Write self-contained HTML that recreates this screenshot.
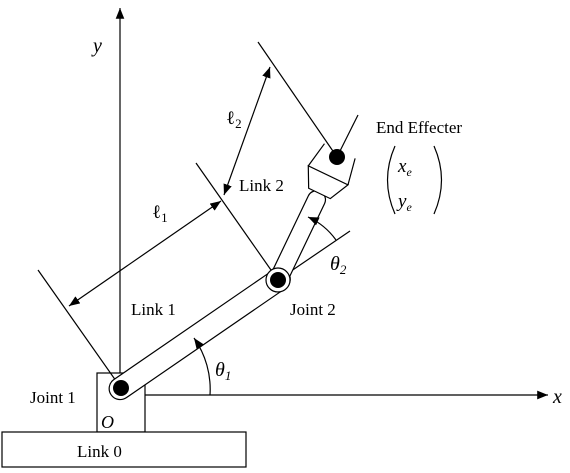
<!DOCTYPE html>
<html><head><meta charset="utf-8"><style>
html,body{margin:0;padding:0;background:#fff}
svg{display:block}
text{font-family:"Liberation Serif",serif;fill:#000}
</style></head><body>
<svg width="570" height="473" viewBox="0 0 570 473">
<defs>
<marker id="ah" viewBox="0 0 10 10" refX="10" refY="5" markerWidth="9" markerHeight="9" orient="auto-start-reverse"><path d="M0,1 L10,5 L0,9 z" fill="#000"/></marker>
</defs>
<g stroke="#000" stroke-width="1.2" fill="none">
<line x1="120" y1="396" x2="120" y2="8" marker-end="url(#ah)"/>
<line x1="145" y1="395" x2="548" y2="395" marker-end="url(#ah)"/>
<rect x="97" y="373" width="48" height="59" fill="#fff"/>
<rect x="2" y="432" width="244" height="35" fill="#fff"/>
<line x1="38" y1="270" x2="121" y2="388"/>
<line x1="196" y1="163" x2="278" y2="280"/>
<line x1="258" y1="42" x2="337" y2="157"/>
<line x1="278" y1="280" x2="350" y2="231"/>
<line x1="337" y1="157" x2="358" y2="115"/>
<line x1="69" y1="306" x2="221" y2="201" marker-start="url(#ah)" marker-end="url(#ah)"/>
<line x1="224" y1="195" x2="270" y2="67" marker-start="url(#ah)" marker-end="url(#ah)"/>
<g transform="translate(121,388) rotate(-34.5)">
<rect x="-12" y="-11" width="215" height="22" rx="11" fill="#fff"/>
</g>
<g transform="translate(278,280) rotate(-64.4)">
<rect x="-12" y="-9" width="110" height="18" rx="9" fill="#fff"/>
<path d="M96,-12 L96,12 L116,22 L116,-22 Z" fill="#fff"/>
<path d="M116,-22 L143,-17 M116,22 L143,17"/>
</g>
<circle cx="278" cy="280" r="12" fill="#fff"/>
<path d="M210,395 A89,89 0 0 0 194,338" marker-end="url(#ah)"/>
<path d="M336,240 A70,70 0 0 0 308,217" marker-end="url(#ah)"/>
<path d="M395,146 Q380,180 395,214"/>
<path d="M434,146 Q449,180 434,214"/>
</g>
<circle cx="121" cy="388" r="8" fill="#000"/>
<circle cx="278" cy="280" r="8" fill="#000"/>
<circle cx="337" cy="157" r="8" fill="#000"/>
<g font-size="17">
<text x="93" y="52" font-style="italic" font-size="20">y</text>
<text x="553" y="403" font-style="italic" font-size="20">x</text>
<text x="376" y="133">End Effecter</text>
<text x="398" y="172" font-style="italic" font-size="19">x<tspan font-size="12" dy="4">e</tspan></text>
<text x="398" y="207" font-style="italic" font-size="19">y<tspan font-size="12" dy="4">e</tspan></text>
<text x="239" y="191">Link 2</text>
<text x="226" y="124" font-size="19">ℓ<tspan font-size="13" dy="4">2</tspan></text>
<text x="152" y="218" font-size="19">ℓ<tspan font-size="13" dy="4">1</tspan></text>
<text x="131" y="315">Link 1</text>
<text x="290" y="315">Joint 2</text>
<text x="215" y="376" font-style="italic" font-size="20">θ<tspan font-size="13" dy="4">1</tspan></text>
<text x="330" y="270" font-style="italic" font-size="20">θ<tspan font-size="13" dy="4">2</tspan></text>
<text x="30" y="403">Joint 1</text>
<text x="101" y="428" font-style="italic" font-size="18">O</text>
<text x="77" y="457">Link 0</text>
</g>
</svg>
</body></html>
